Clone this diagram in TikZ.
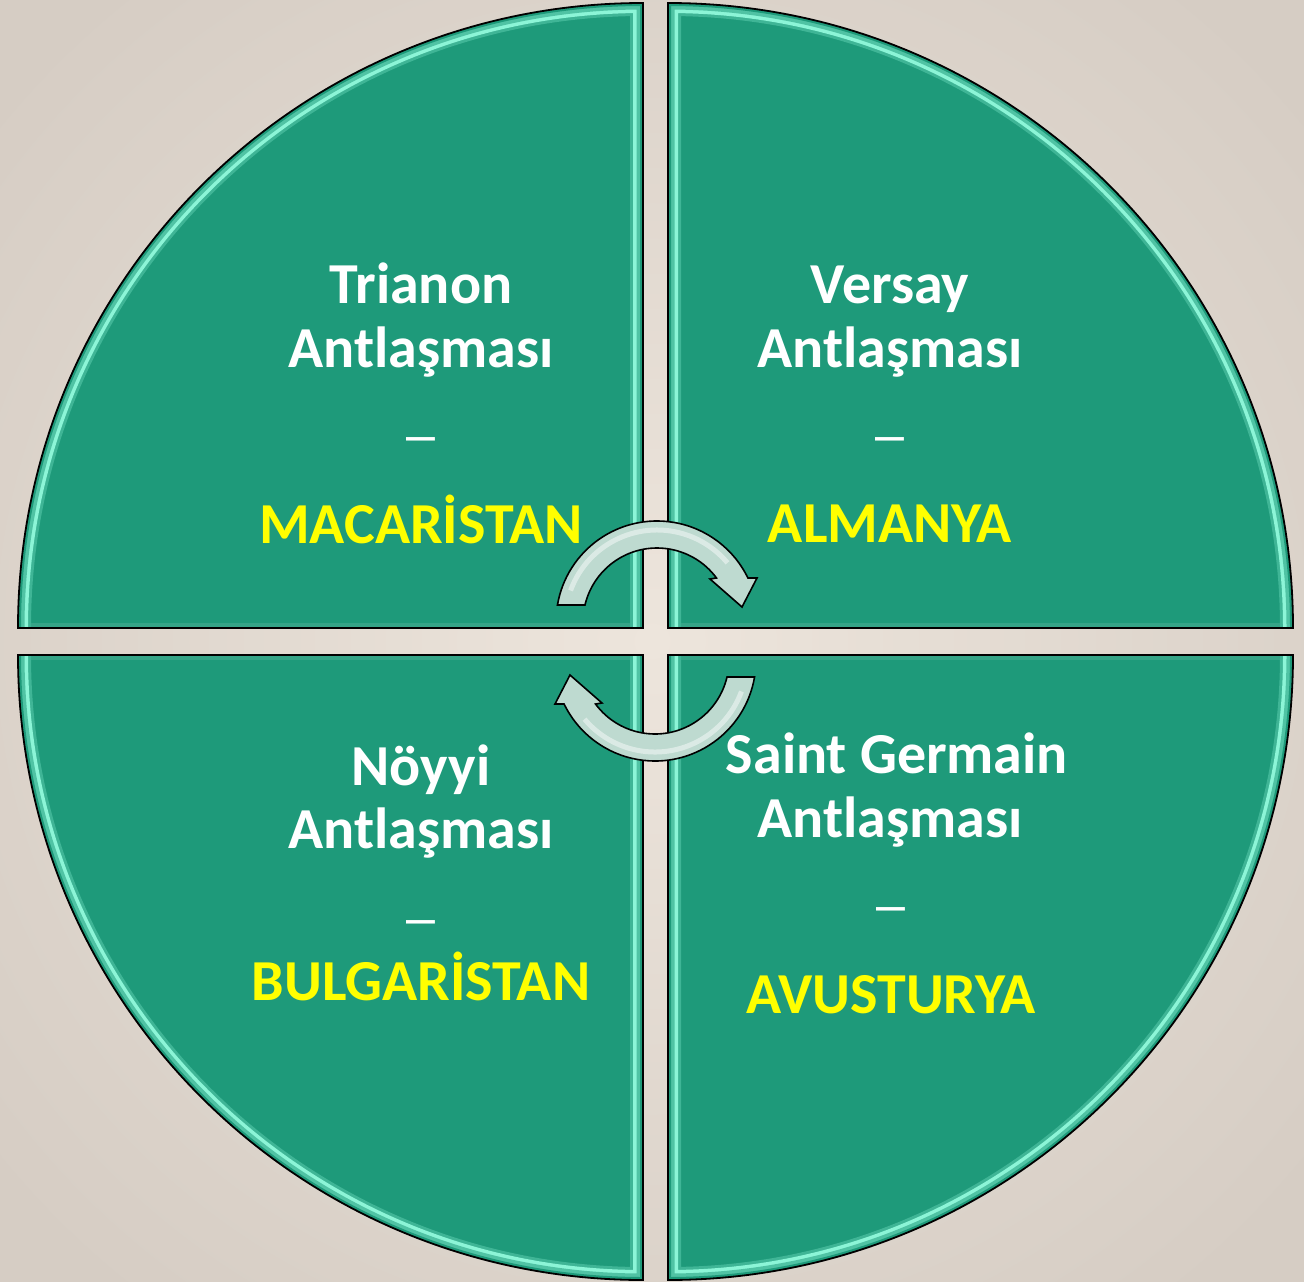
\documentclass[tikz,border=0pt]{standalone}
\usepackage{fontspec}
\setmainfont{Carlito}
\newfontfamily\dashfont{Liberation Sans}
\usetikzlibrary{calc}
\definecolor{bgA}{RGB}{237,229,220}
\definecolor{bgB}{RGB}{214,205,196}
\definecolor{quad}{RGB}{30,154,122}
\definecolor{bev}{RGB}{140,245,215}
\definecolor{arrowfill}{RGB}{190,218,208}
\definecolor{yel}{RGB}{255,255,0}
\newcommand\shTL{(643,-628) -- (18,-628) arc[start angle=180, end angle=90, radius=625pt] -- cycle}
\newcommand\shTR{(668,-628) -- (1293,-628) arc[start angle=0, end angle=90, radius=625pt] -- cycle}
\newcommand\shBL{(643,-655) -- (18,-655) arc[start angle=180, end angle=270, radius=625pt] -- cycle}
\newcommand\shBR{(668,-655) -- (1293,-655) arc[start angle=0, end angle=-90, radius=625pt] -- cycle}
\newcommand\bvTL{(18,-628) arc[start angle=180, end angle=90, radius=625pt] -- (643,-628)}
\newcommand\bvTR{(1293,-628) arc[start angle=0, end angle=90, radius=625pt] -- (668,-628)}
\newcommand\bvBL{(18,-655) arc[start angle=180, end angle=270, radius=625pt] -- (643,-655)}
\newcommand\bvBR{(1293,-655) arc[start angle=0, end angle=-90, radius=625pt] -- (668,-655)}
\newcommand\bevelset[3]{%
  \begin{scope}
    \clip #1;
    \fill[quad] #1;
    \draw[line width=10pt, quad!90!white] #3;
    \draw[line width=26pt, quad!70!bev, line join=miter] #2;
    \draw[line width=20pt, bev, line join=miter] #2;
    \draw[line width=13pt, quad!55!bev, line join=miter] #2;
    \draw[line width=6pt, quad, line join=miter] #2;
  \end{scope}
  \draw[black, line width=1.8pt, line join=miter] #1;
}
\begin{document}
\begin{tikzpicture}[x=1pt,y=1pt,
  every node/.style={inner sep=0pt, outer sep=0pt},
  lbl/.style={font=\fontsize{58}{64}\selectfont\bfseries, text=white, anchor=base},
  ylbl/.style={lbl, text=yel},
  dsh/.style={font=\dashfont\fontsize{52}{52}\selectfont, text=white, anchor=base},
  arrowsty/.style={fill=arrowfill, draw=black, line width=1.6pt, line join=miter},
  shine/.style={white, opacity=0.45, line width=5pt}]
\useasboundingbox (0,0) rectangle (1304,-1282);
\shade[inner color=bgA, outer color=bgB] (-200,200) rectangle (1504,-1482);
% quadrants
\bevelset{\shTL}{\bvTL}{(18,-628) -- (643,-628)}
\bevelset{\shTR}{\bvTR}{(1293,-628) -- (668,-628)}
\bevelset{\shBL}{\bvBL}{(18,-655) -- (643,-655)}
\bevelset{\shBR}{\bvBR}{(1293,-655) -- (668,-655)}
% texts
\node[lbl] (t1) at (421,-303) {Trianon};
\node[lbl] (t2) at (421,-367) {Antlaşması};
\node[dsh] (t3) at (421,-452) {–};
\node[ylbl] (t4) at (421,-543) {MACARİSTAN};
\node[lbl] (v1) at (890,-303) {Versay};
\node[lbl] (v2) at (890,-367) {Antlaşması};
\node[dsh] (v3) at (890,-452) {–};
\node[ylbl] (v4) at (890,-542) {ALMANYA};
\node[lbl] (n1) at (421,-785) {Nöyyi};
\node[lbl] (n2) at (421,-848) {Antlaşması};
\node[dsh] (n3) at (421,-935) {–};
\node[ylbl] (n4) at (421,-1000) {BULGARİSTAN};
\node[lbl] (s1) at (897,-773) {Saint Germain};
\node[lbl] (s2) at (890,-837) {Antlaşması};
\node[dsh] (s3) at (891,-922) {–};
\node[ylbl] (s4) at (891,-1013) {AVUSTURYA};
% circular arrows
\coordinate (c1) at (657,-622);
\coordinate (c2) at (655,-660);
\draw[arrowsty] ($(c1)+(170.3:101pt)$) arc[start angle=170.3, end angle=25.8, radius=101pt]
  -- (757,-578) -- (742,-607) -- (710,-579)
  -- ($(c1)+(36.5:74pt)$) arc[start angle=36.5, end angle=166.7, radius=74pt] -- cycle;
\draw[shine] ($(c1)+(160:92pt)$) arc[start angle=160, end angle=40, radius=92pt];
\draw[arrowsty] ($(c2)+(350.3:101pt)$) arc[start angle=350.3, end angle=205.8, radius=101pt]
  -- (555,-704) -- (570,-675) -- (602,-703)
  -- ($(c2)+(216.5:74pt)$) arc[start angle=216.5, end angle=346.7, radius=74pt] -- cycle;
\draw[shine] ($(c2)+(340:92pt)$) arc[start angle=340, end angle=220, radius=92pt];
\end{tikzpicture}
\end{document}
